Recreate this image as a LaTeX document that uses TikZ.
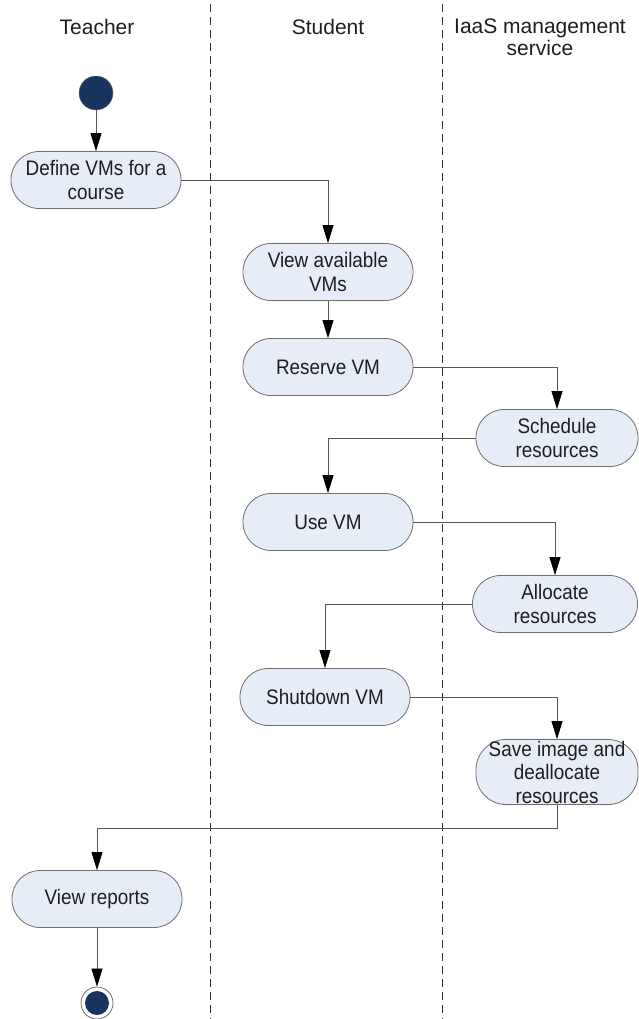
\documentclass[tikz,border=0pt]{standalone}
\usepackage{fontspec}
\setmainfont{Liberation Sans}
\newfontfamily\boxfont{Liberation Sans}[FakeStretch=0.9]
\usetikzlibrary{arrows.meta,calc}
\definecolor{boxfill}{HTML}{E7EDF6}
\definecolor{boxdraw}{HTML}{6F6F6F}
\definecolor{navy}{HTML}{17345F}
\definecolor{lanegray}{HTML}{555555}
\definecolor{txt}{HTML}{1E1E1E}
\tikzset{
  act/.style={draw=boxdraw, line width=0.8pt, fill=boxfill, rounded corners=28pt,
    minimum width=170pt, minimum height=57pt, align=center, inner sep=1pt, text=txt,
    font=\boxfont\fontsize{21}{23.5}\selectfont},
  title/.style={align=center, text=txt, font=\fontsize{21}{22}\selectfont},
  flow/.style={draw=lanegray, line width=0.7pt, -{Triangle[width=11pt,length=18pt,color=black]}},
  lane/.style={draw=black!80, line width=0.6pt, dash pattern=on 8pt off 5pt},
}
\begin{document}
\begin{tikzpicture}[x=1pt,y=-1pt]
\useasboundingbox (0,0) rectangle (638,1019);
% swimlane separators
\coordinate (l1t) at (210,4); \coordinate (l1b) at (210,1019);
\coordinate (l2t) at (442,4); \coordinate (l2b) at (442,1019);
\draw[lane] (l1t) -- (l1b);
\draw[lane] (l2t) -- (l2b);
% titles
\node[title] (tTeacher) at (97,27) {Teacher};
\node[title] (tStudent) at (328,27) {Student};
\node[title] (tIaas) at (540,37) {IaaS management\\service};
% start / end
\node[circle, fill=navy, draw=boxdraw, line width=0.5pt, minimum size=34pt, inner sep=0pt] (start) at (96,93) {};
\node[circle, draw=boxdraw, fill=white, line width=0.8pt, minimum size=32pt, inner sep=0pt] (end) at (97,1003) {};
\node[circle, fill=navy, minimum size=24pt, inner sep=0pt] (endin) at (end.center) {};
% activities
\node[act] (define) at (96,180) {Define VMs for a\\course};
\node[act] (view) at (328,272) {View available\\VMs};
\node[act] (reserve) at (328,367) {Reserve VM};
\node[act, minimum width=162pt] (schedule) at (557,438) {Schedule\\resources};
\node[act] (use) at (328,522) {Use VM};
\node[act, minimum width=165pt] (allocate) at (555,604) {Allocate\\resources};
\node[act] (shutdown) at (325,697) {Shutdown VM};
\node[act, minimum width=162pt, minimum height=65pt, rounded corners=30pt] (save) at (557,772) {Save image and\\deallocate\\resources};
\node[act] (reports) at (97,899) {View reports};
% connectors
\draw[flow] (start) -- (define);
\draw[flow] (define.east) -| (view.north);
\draw[flow] (view) -- (reserve);
\draw[flow] (reserve.east) -| (schedule.north);
\draw[flow] (schedule.west) -| (use.north);
\draw[flow] (use.east) -| (allocate.north);
\draw[flow] (allocate.west) -| (shutdown.north);
\draw[flow] (shutdown.east) -| (save.north);
\coordinate (bend) at (557,828);
\draw[flow] (save.south) -- (bend) -| (reports.north);
\draw[flow] (reports) -- (end);
\end{tikzpicture}
\end{document}
